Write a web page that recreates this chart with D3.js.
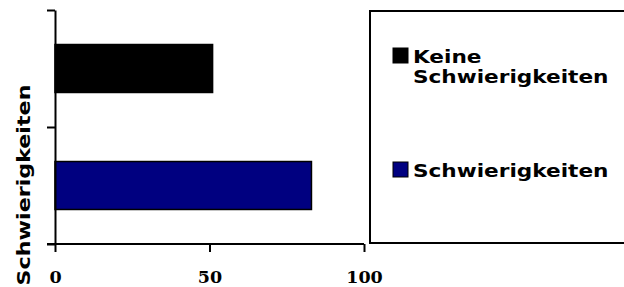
<!DOCTYPE html>
<html><head><meta charset="utf-8">
<script src="https://cdn.jsdelivr.net/npm/d3@7"></script>
<style>html,body{margin:0;padding:0;background:#fff;}</style>
</head><body>
<script>
const categories = ["Keine Schwierigkeiten", "Schwierigkeiten"];
const values = [51, 83];
const colors = ["#000000", "#000080"];
const xTicks = [0, 50, 100];
const axisTitle = "Schwierigkeiten";
const legendLines = [["Keine", "Schwierigkeiten"], ["Schwierigkeiten"]];

const W = 624, H = 287;
const svg = d3.select("body").append("svg").attr("width", W).attr("height", H);
const STRETCH = 1.2;

const x = d3.scaleLinear().domain([0, 100]).range([55, 364]);
const y = d3.scaleBand().domain(categories).range([10, 244]).paddingInner(0.59).paddingOuter(0.295);
const yBounds = d3.scaleLinear().domain([0, 2]).range([10, 244]);

// bars
svg.selectAll("rect.bar").data(categories).join("rect")
  .attr("class", "bar")
  .attr("x", x(0))
  .attr("y", d => y(d))
  .attr("width", (d, i) => x(values[i]) - x(0))
  .attr("height", y.bandwidth())
  .attr("fill", (d, i) => colors[i])
  .attr("stroke", "#000").attr("stroke-width", 1.5);

// x axis
const xAxis = svg.append("g").attr("transform", `translate(0,${yBounds(2)})`)
  .call(d3.axisBottom(x).tickValues(xTicks).tickSize(8).tickSizeOuter(0).tickFormat(d3.format("d")));
xAxis.select(".domain").attr("stroke-width", 2).attr("d", `M${x(0)-8},0H${x(100)}`);
xAxis.selectAll(".tick line").attr("stroke-width", 2);
xAxis.selectAll(".tick text").attr("y", 39).attr("dy", 0)
  .attr("font-family", "'DejaVu Serif', serif").attr("font-weight", "bold").attr("font-size", 17.5).attr("fill", "#000");

// y axis
const yAxis = svg.append("g").attr("transform", `translate(${x(0)},0)`)
  .call(d3.axisLeft(yBounds).tickValues([0, 1, 2]).tickSize(8).tickSizeOuter(0).tickFormat(""));
yAxis.select(".domain").attr("stroke-width", 2);
yAxis.selectAll(".tick line").attr("stroke-width", 2);

function stretchText(t) {
  const n = t.node().getComputedTextLength();
  t.attr("textLength", n * STRETCH).attr("lengthAdjust", "spacingAndGlyphs");
}

// y title
const yt = svg.append("text")
  .attr("transform", `translate(29.5,185) rotate(-90)`)
  .attr("text-anchor", "middle")
  .attr("font-family", "'DejaVu Sans', sans-serif").attr("font-weight", "bold").attr("font-size", 18.5)
  .text(axisTitle);
stretchText(yt);

// legend box
svg.append("rect").attr("x", 370).attr("y", 11).attr("width", 300).attr("height", 232)
  .attr("fill", "none").attr("stroke", "#000").attr("stroke-width", 2);

const legendY = [63, 177];
legendLines.forEach((lines, i) => {
  svg.append("rect").attr("x", 393).attr("y", legendY[i] - 15).attr("width", 15).attr("height", 15)
    .attr("fill", colors[i]).attr("stroke", "#000").attr("stroke-width", 1);
  lines.forEach((l, j) => {
    const t = svg.append("text").attr("x", 413).attr("y", legendY[i] + j * 20)
      .attr("font-family", "'DejaVu Sans', sans-serif").attr("font-weight", "bold").attr("font-size", 18)
      .text(l);
    stretchText(t);
  });
});
</script>
</body></html>
